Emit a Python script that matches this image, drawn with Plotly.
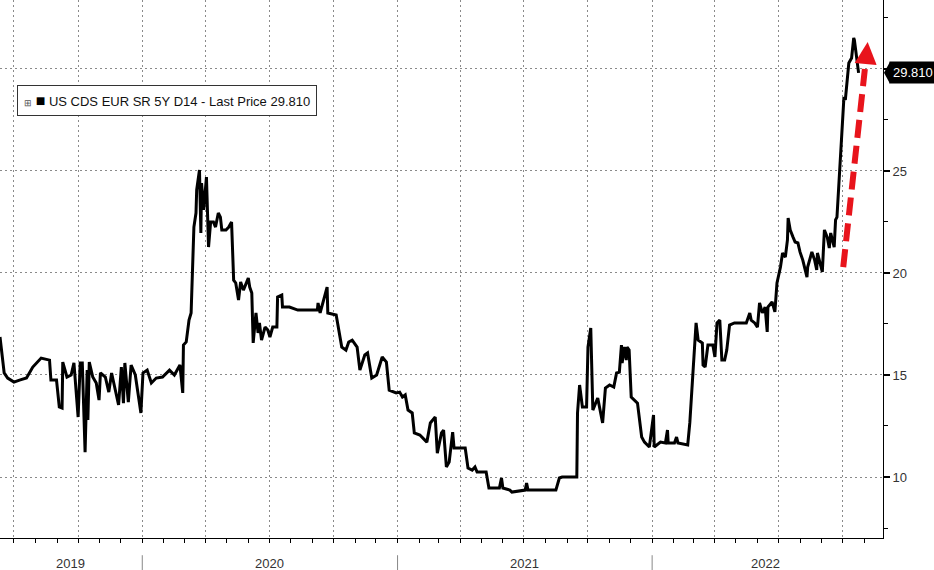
import plotly.graph_objects as go

# ---------------- data ----------------
dates = [
    "2019-06-11","2019-06-17","2019-06-22","2019-07-01","2019-07-09","2019-07-19","2019-07-28","2019-08-09",
    "2019-08-21","2019-08-23","2019-08-31","2019-09-04","2019-09-08","2019-09-09","2019-09-15","2019-09-21",
    "2019-09-25","2019-10-01","2019-10-04","2019-10-07","2019-10-11","2019-10-14","2019-10-15","2019-10-17",
    "2019-10-22","2019-10-27","2019-10-31","2019-11-02","2019-11-09","2019-11-14","2019-11-18","2019-11-23",
    "2019-11-28","2019-12-02","2019-12-05","2019-12-07","2019-12-12","2019-12-16","2019-12-22","2019-12-30",
    "2020-01-02","2020-01-08","2020-01-14","2020-01-21","2020-01-30","2020-02-09","2020-02-16","2020-02-24",
    "2020-02-28","2020-02-29","2020-03-04","2020-03-08","2020-03-11","2020-03-15","2020-03-18","2020-03-19",
    "2020-03-23","2020-03-25","2020-03-26","2020-03-29","2020-04-01","2020-04-02","2020-04-05","2020-04-08",
    "2020-04-12","2020-04-15","2020-04-19","2020-04-22","2020-04-24","2020-04-30","2020-05-04","2020-05-08",
    "2020-05-11","2020-05-14","2020-05-18","2020-05-21","2020-05-25","2020-06-01","2020-06-03","2020-06-06",
    "2020-06-08","2020-06-12","2020-06-15","2020-06-17","2020-06-20","2020-06-25","2020-06-29","2020-07-02",
    "2020-07-06","2020-07-12","2020-07-13","2020-07-19","2020-07-20","2020-07-30","2020-08-11","2020-09-08",
    "2020-09-09","2020-09-12","2020-09-22","2020-09-23","2020-10-05","2020-10-09","2020-10-13","2020-10-19",
    "2020-10-23","2020-10-28","2020-11-04","2020-11-08","2020-11-12","2020-11-15","2020-11-19","2020-11-25",
    "2020-12-02","2020-12-06","2020-12-10","2020-12-16","2020-12-20","2020-12-30","2021-01-04","2021-01-08",
    "2021-01-12","2021-01-16","2021-01-22","2021-01-25","2021-02-02","2021-02-12","2021-02-17","2021-02-24",
    "2021-02-27","2021-03-05","2021-03-08","2021-03-12","2021-03-16","2021-03-21","2021-03-23","2021-04-08",
    "2021-04-12","2021-04-18","2021-04-22","2021-04-25","2021-05-08","2021-05-12","2021-05-27","2021-05-30",
    "2021-06-01","2021-06-11","2021-06-14","2021-07-03","2021-07-05","2021-07-07","2021-08-16","2021-08-21",
    "2021-08-25","2021-09-15","2021-09-16","2021-09-19","2021-09-23","2021-09-29","2021-10-01","2021-10-05",
    "2021-10-08","2021-10-15","2021-10-21","2021-10-22","2021-10-26","2021-11-01","2021-11-07","2021-11-11",
    "2021-11-15","2021-11-18","2021-11-19","2021-11-22","2021-11-25","2021-11-26","2021-11-29","2021-12-02",
    "2021-12-11","2021-12-17","2021-12-21","2021-12-28","2022-01-03","2022-01-04","2022-01-13","2022-01-20",
    "2022-01-23","2022-01-24","2022-02-02","2022-02-05","2022-02-07","2022-02-21","2022-02-24","2022-02-27",
    "2022-03-01","2022-03-05","2022-03-08","2022-03-14","2022-03-15","2022-03-18","2022-03-22","2022-03-29",
    "2022-04-01","2022-04-04","2022-04-08","2022-04-11","2022-04-15","2022-04-18","2022-04-22","2022-04-29",
    "2022-05-09","2022-05-16","2022-05-21","2022-05-23","2022-05-28","2022-06-01","2022-06-04","2022-06-08",
    "2022-06-12","2022-06-15","2022-06-16","2022-06-22","2022-06-26","2022-06-29","2022-07-04","2022-07-07",
    "2022-07-11","2022-07-14","2022-07-15","2022-07-18","2022-07-22","2022-07-25","2022-07-29","2022-08-01",
    "2022-08-05","2022-08-08","2022-08-11","2022-08-12","2022-08-18","2022-08-22","2022-08-25","2022-08-26",
    "2022-09-02","2022-09-05","2022-09-09","2022-09-12","2022-09-14","2022-09-19","2022-09-21","2022-09-23",
    "2022-09-26","2022-09-28","2022-09-30","2022-10-03","2022-10-05","2022-10-07","2022-10-10","2022-10-14",
    "2022-10-17","2022-10-18","2022-10-21","2022-10-24",
]
values = [
    16.86,15.10,14.85,14.65,14.75,14.85,15.39,15.83,
    15.73,14.75,14.75,13.43,13.38,15.63,14.90,15.00,
    15.59,12.94,15.59,15.59,11.22,15.24,12.79,15.63,
    14.90,14.61,13.77,15.10,14.90,14.16,15.10,14.26,
    13.53,15.39,13.62,15.59,13.67,15.49,15.00,13.14,
    15.10,15.24,14.61,14.85,14.90,15.24,15.00,15.49,
    14.12,16.47,16.62,17.69,18.04,22.25,22.94,24.07,
    25.05,21.96,24.41,23.09,24.70,24.70,21.27,22.50,
    22.50,22.25,22.94,22.74,22.11,22.11,22.25,22.50,
    19.65,19.51,18.67,19.56,19.16,19.75,19.31,19.02,
    16.57,18.04,17.06,17.55,16.71,17.35,17.20,16.86,
    17.35,17.35,18.82,18.92,18.33,18.33,18.18,18.18,
    18.53,18.04,19.31,18.04,17.94,17.06,16.37,16.22,
    16.62,16.71,16.37,15.24,15.73,15.98,16.08,14.85,
    15.00,15.39,15.88,15.63,14.26,14.12,14.16,13.92,
    14.02,13.28,13.14,12.16,12.06,11.71,12.65,12.94,
    11.17,12.16,12.30,10.49,10.73,12.20,11.42,11.42,
    10.44,10.34,10.49,10.24,10.24,9.46,9.46,9.95,
    9.46,9.36,9.26,9.36,9.70,9.36,9.36,9.95,
    10.00,10.00,13.14,14.51,13.43,13.43,16.37,17.30,
    13.28,13.87,12.89,12.65,14.36,14.51,14.41,15.10,
    15.14,16.47,15.59,16.37,15.73,16.37,16.22,13.92,
    13.62,11.96,11.71,11.47,13.04,11.47,11.71,11.67,
    12.30,11.67,11.67,11.96,11.67,11.57,12.65,14.26,
    15.20,17.55,16.71,16.57,15.49,15.39,16.47,16.47,
    15.88,17.55,17.69,15.73,15.73,16.22,17.45,17.55,
    17.55,17.55,18.04,17.69,17.55,17.35,18.53,18.04,
    18.33,17.11,18.33,18.58,18.09,19.51,20.29,20.98,
    20.78,21.62,22.69,22.11,21.76,21.52,21.47,21.03,
    20.63,20.15,19.80,20.29,21.03,20.63,20.15,20.98,
    20.05,22.11,21.76,21.22,21.96,21.27,22.60,22.74,
    24.56,26.03,27.00,28.62,28.48,29.31,30.29,30.54,
    31.52,31.42,30.44,29.81,
]

series_name = "US CDS EUR SR 5Y D14 - Last Price 29.810"
last_price = 29.81
last_price_text = "29.810"

y_tickvals = [10, 15, 20, 25, 30]
y_ticktext = ["10", "15", "20", "25", ""]

year_labels = ["2019", "2020", "2021", "2022"]
year_label_dates = ["2019-09-20", "2020-07-02", "2021-07-02", "2022-06-12"]
year_starts = ["2020-01-01", "2021-01-01", "2022-01-01"]

# ---------------- figure ----------------
FONT = "Liberation Sans, Arial, sans-serif"
RED = "#e8141c"
GRID = "#8a8a8a"

fig = go.Figure()
fig.add_trace(go.Scatter(
    x=dates, y=values, mode="lines", name=series_name,
    line=dict(color="#000000", width=3), showlegend=False,
))

fig.update_layout(
    width=934, height=570,
    margin=dict(l=0, r=51, t=0, b=32),
    paper_bgcolor="white", plot_bgcolor="white",
    font=dict(family=FONT, size=13, color="#333333"),
    showlegend=False,
    xaxis=dict(
        type="date",
        range=["2019-06-11", "2022-11-28"],
        tick0="2019-01-01", dtick="M3",
        showgrid=True, gridcolor=GRID, griddash="2px,3px", gridwidth=1,
        ticks="outside", ticklen=4, tickcolor="#000", tickwidth=1,
        showticklabels=False, automargin=False,
        showline=True, linecolor="#000", linewidth=1,
        zeroline=False,
        minor=dict(dtick="M1", tick0="2019-01-01", ticks="outside", ticklen=4,
                   tickcolor="#000", tickwidth=1, showgrid=False),
    ),
    yaxis=dict(
        side="right",
        range=[7.01, 33.38],
        tickmode="array", tickvals=y_tickvals, ticktext=y_ticktext,
        showgrid=True, gridcolor=GRID, griddash="2px,3px", gridwidth=1,
        ticks="outside", ticklen=6, tickwidth=2, tickcolor="#000",
        showline=True, linecolor="#000", linewidth=1,
        zeroline=False, automargin=False,
        tickfont=dict(family=FONT, size=13, color="#333333"),
        minor=dict(dtick=2.5, tick0=0, ticks="outside", ticklen=4,
                   tickcolor="#000", tickwidth=1, showgrid=False),
    ),
)

# year labels below axis
for lab, d in zip(year_labels, year_label_dates):
    fig.add_annotation(x=d, xref="x", y=-0.047, yref="paper", text=lab,
                       showarrow=False, yanchor="middle",
                       font=dict(family=FONT, size=13, color="#333333"))
for d in year_starts:
    fig.add_shape(type="line", xref="x", yref="paper", x0=d, x1=d,
                  y0=-0.032, y1=-0.06, line=dict(color="#888888", width=1))

# legend-like box
fig.add_annotation(
    xref="paper", yref="paper", x=17 / 883, y=(538 - 100) / 538,
    xanchor="left", yanchor="middle", showarrow=False,
    text="<span style='font-size:9px;color:#555'>⊞</span> <span style='font-size:16px;color:#000'>■</span> " + series_name,
    font=dict(family=FONT, size=13, color="#111111"),
    bordercolor="#333333", borderwidth=1, borderpad=6, bgcolor="white",
)

# last price tag
fig.add_annotation(
    xref="paper", x=1, xshift=6, xanchor="left",
    yref="y", y=last_price, yanchor="middle",
    text=last_price_text, showarrow=False,
    font=dict(family=FONT, size=13, color="white"),
    bgcolor="#000000", borderpad=3,
)
fig.add_shape(type="path", xref="paper", yref="y",
              xsizemode="pixel", ysizemode="pixel", xanchor=1, yanchor=last_price,
              path="M1,0 L7,11 L7,-11 Z", fillcolor="#000000", line=dict(width=0))

# red dashed arrow
fig.add_shape(type="line", xref="x", yref="y",
              x0="2022-10-02", y0=20.29, x1="2022-11-02", y1=30.0,
              line=dict(color=RED, width=6, dash="18px,8px"))
fig.add_shape(type="path", xref="x", yref="y",
              xsizemode="pixel", ysizemode="pixel", xanchor="2022-11-06", yanchor=31.32,
              path="M0,0 L-13,-21 L9,-23 Z", fillcolor=RED, line=dict(width=0))

fig.write_html(
    "out.html",
    config={"displayModeBar": False},
    post_script="document.body.style.margin='0';document.body.style.overflow='hidden';",
)
